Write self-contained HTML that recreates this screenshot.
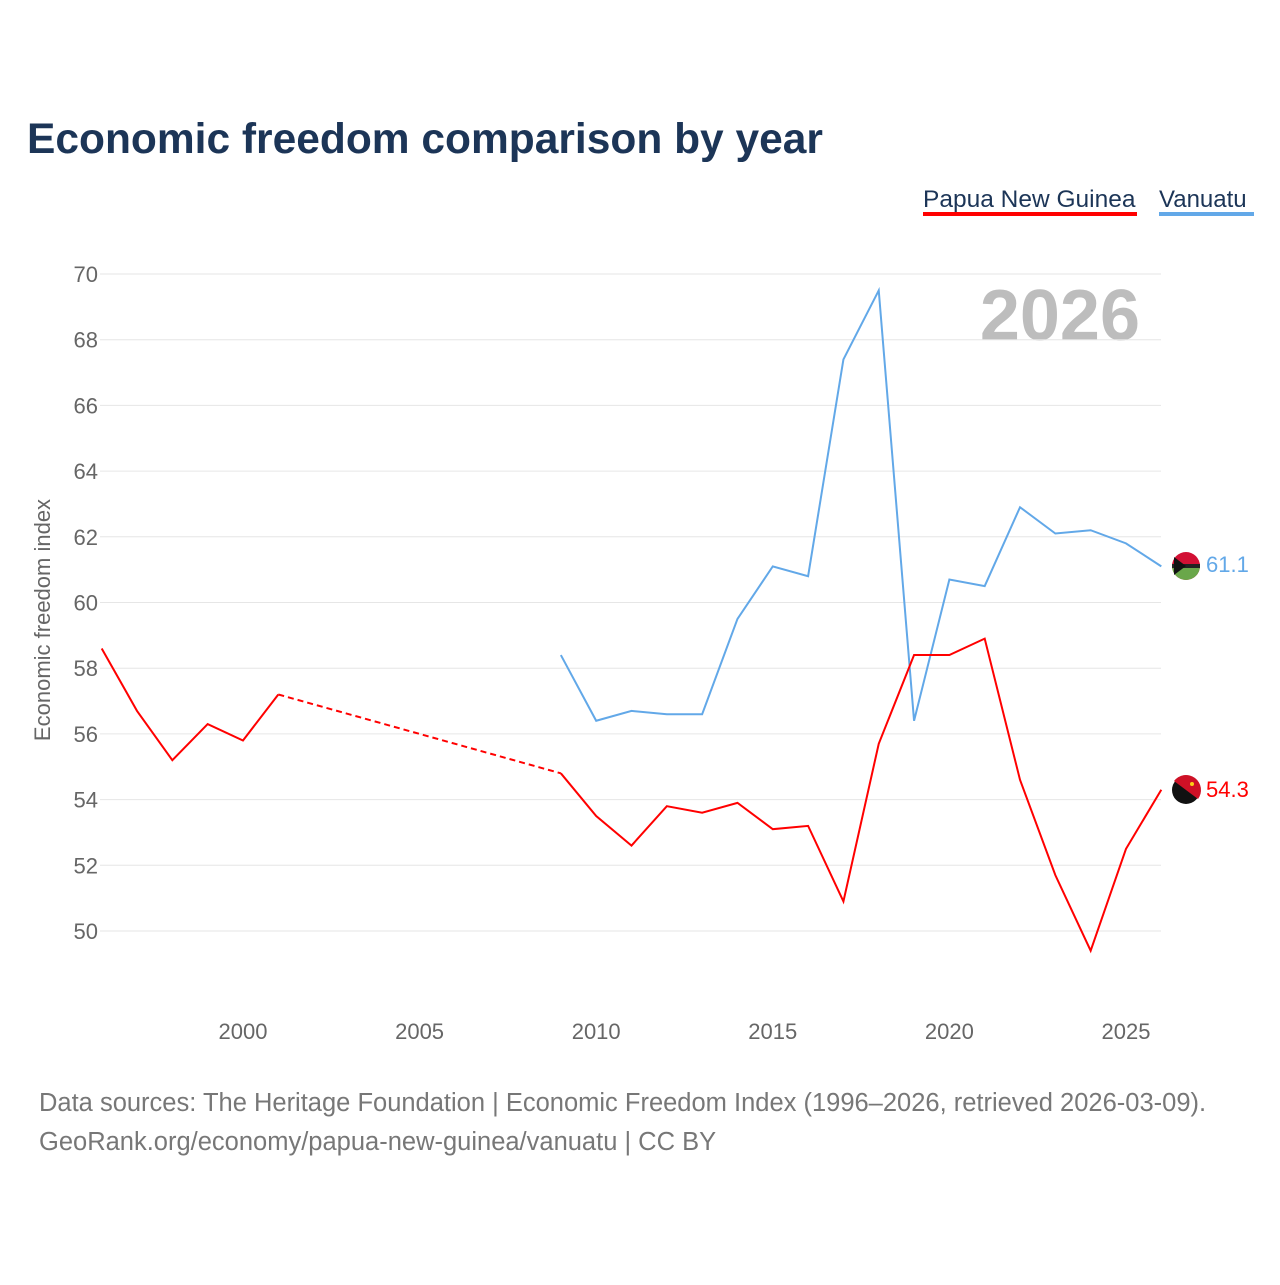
<!DOCTYPE html>
<html><head><meta charset="utf-8"><style>
body{margin:0;background:#fff;font-family:"Liberation Sans",sans-serif;}
svg text{font-family:"Liberation Sans",sans-serif;}
</style></head><body>
<svg width="1280" height="1280" viewBox="0 0 1280 1280" id="chart">
<text x="27" y="153" font-size="42.5" font-weight="bold" fill="#1c3557">Economic freedom comparison by year</text>
<g>
<text x="923" y="207" font-size="24.5" fill="#1c3557">Papua New Guinea</text>
<rect x="923" y="212" width="214" height="4" fill="#ff0000"/>
<text x="1159" y="207" font-size="24" fill="#1c3557">Vanuatu</text>
<rect x="1159" y="212" width="95" height="4" fill="#62a8e8"/>
</g>
<text x="1140" y="340" font-size="72" font-weight="bold" fill="#bdbdbd" text-anchor="end">2026</text>
<g id="grid"></g><g id="yt"></g><g id="xt"></g><g id="series"></g>
<text transform="translate(50,620) rotate(-90)" font-size="22" fill="#666" text-anchor="middle">Economic freedom index</text>
<g>
<circle cx="1186" cy="566" r="14" fill="#d21034"/><path d="M1172,566 A14,14 0 0,0 1200,566Z" fill="#6aa74a"/><rect x="1172" y="564" width="28" height="4" fill="#222"/><path d="M1174,557 L1186,566 L1174,575Z" fill="#111"/>
<text x="1206" y="572" font-size="22" fill="#62a8e8">61.1</text></g>
<g>
<circle cx="1186" cy="790" r="14" fill="#111"/><path d="M1174,781 A14,14 0 0,1 1198,799Z" fill="#ce1126"/><circle cx="1192" cy="784" r="2" fill="#fcd116"/>
<text x="1206" y="797" font-size="22" fill="#ff0000">54.3</text></g>
<text x="39" y="1111" font-size="25.5" fill="#777">Data sources: The Heritage Foundation | Economic Freedom Index (1996–2026, retrieved 2026-03-09).</text>
<text x="39" y="1150" font-size="25.5" fill="#777">GeoRank.org/economy/papua-new-guinea/vanuatu | CC BY</text>
</svg>
<script>
const years=[1996,1997,1998,1999,2000,2001,2002,2003,2004,2005,2006,2007,2008,2009,2010,2011,2012,2013,2014,2015,2016,2017,2018,2019,2020,2021,2022,2023,2024,2025,2026];
const pngValues=[58.6,56.7,55.2,56.3,55.8,57.2,null,null,null,null,null,null,null,54.8,53.5,52.6,53.8,53.6,53.9,53.1,53.2,50.9,55.7,58.4,58.4,58.9,54.6,51.7,49.4,52.5,54.3];
const vanValues=[null,null,null,null,null,null,null,null,null,null,null,null,null,58.4,56.4,56.7,56.6,56.6,59.5,61.1,60.8,67.4,69.5,56.4,60.7,60.5,62.9,62.1,62.2,61.8,61.1];
const yTicks=[50,52,54,56,58,60,62,64,66,68,70];
const xTicks=[2000,2005,2010,2015,2020,2025];
const NS="http://www.w3.org/2000/svg";
const X=y=>101.7+(y-1996)*35.32, Y=v=>274+(70-v)*32.85;
function mk(t,a,p){const e=document.createElementNS(NS,t);for(const k in a)e.setAttribute(k,a[k]);document.getElementById(p).appendChild(e);return e;}
yTicks.forEach(v=>{
const l=mk('line',{x1:100,x2:1161,y1:Y(v),y2:Y(v),stroke:'#e6e6e6','stroke-width':1},'grid');


const t=mk('text',{x:98,y:Y(v)+8,'font-size':22,fill:'#666','text-anchor':'end'},'yt');t.textContent=v;


});
xTicks.forEach(v=>{
const t=mk('text',{x:X(v),y:1039,'font-size':22,fill:'#666','text-anchor':'middle'},'xt');t.textContent=v;


});
function draw(vals,color,name){
let seg=[],segs=[];vals.forEach((v,i)=>{if(v==null){if(seg.length)segs.push(seg);seg=[];}else seg.push([X(years[i]),Y(v)]);});if(seg.length)segs.push(seg);
segs.forEach(s=>{const p=mk('polyline',{points:s.map(q=>q.join(',')).join(' '),fill:'none',stroke:color,'stroke-width':2},'series');

});
for(let k=0;k<segs.length-1;k++){const a=segs[k][segs[k].length-1],b=segs[k+1][0];
const d=mk('line',{x1:a[0],y1:a[1],x2:b[0],y2:b[1],stroke:color,'stroke-width':2,'stroke-dasharray':'6,4'},'series');

}
}
draw(vanValues,'#62a8e8','vanuatu');
draw(pngValues,'#ff0000','png');
</script>
</body></html>
